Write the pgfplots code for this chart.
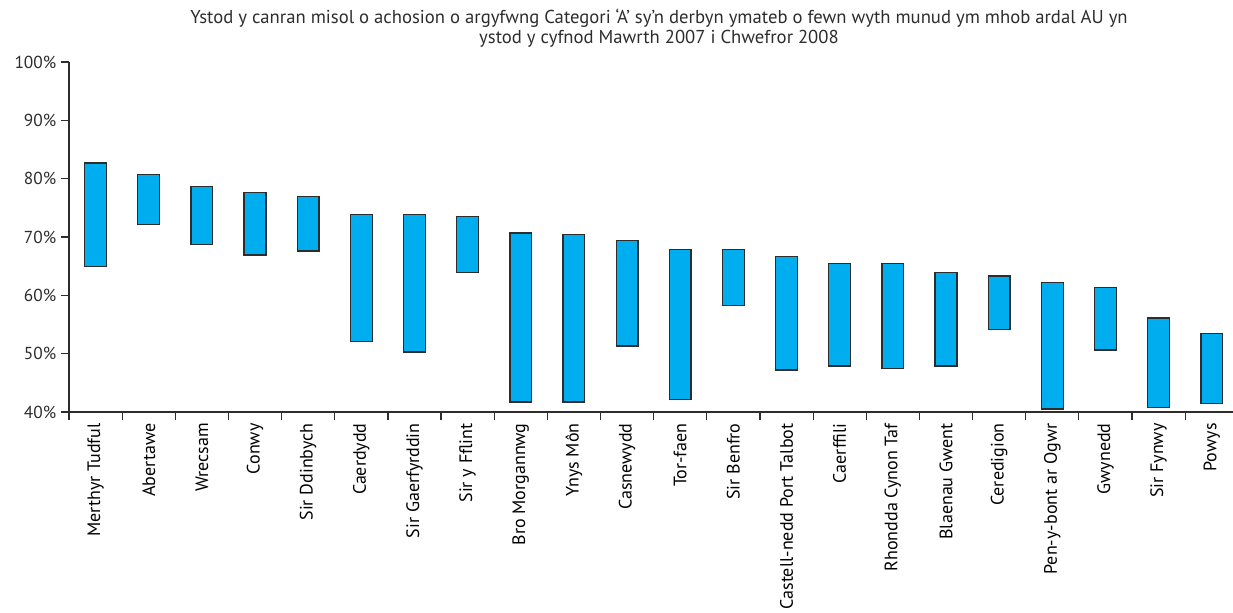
\documentclass[border=0pt]{standalone}
\usepackage{pgfplots}
\pgfplotsset{compat=1.18}
\usepackage{pgfplotstable}
\usepackage{fontspec}
\setmainfont{PT Sans}
\definecolor{barblue}{RGB}{0,174,239}
\definecolor{axgray}{RGB}{45,45,45}
\pgfplotstableread{
idx low high
0 64.9 82.7
1 72.1 80.7
2 68.7 78.7
3 66.9 77.6
4 67.6 76.9
5 52.1 73.9
6 50.3 73.9
7 63.9 73.5
8 41.7 70.7
9 41.7 70.4
10 51.3 69.4
11 42.1 67.8
12 58.2 67.8
13 47.2 66.7
14 47.9 65.4
15 47.5 65.4
16 47.9 63.9
17 54.1 63.3
18 40.5 62.2
19 50.6 61.3
20 40.8 56.1
21 41.4 53.4
}\ranges
\begin{document}
\begin{tikzpicture}
\path[use as bounding box] (-51.75pt,-150.75pt) rectangle (873pt,309pt);
\begin{axis}[
  at={(0,0)}, anchor=south west,
  width=873pt, height=262.5pt, scale only axis,
  xmin=-0.5, xmax=21.4, ymin=40, ymax=100,
  axis x line*=bottom, axis y line*=left,
  axis line style={axgray, line width=1.1pt},
  tick align=outside, major tick length=6pt,
  every tick/.style={axgray, line width=0.9pt},
  ytick={40,50,...,100},
  yticklabels={40\%,50\%,60\%,70\%,80\%,90\%,100\%},
  yticklabel style={font=\fontsize{13}{15}\selectfont, color=axgray},
  xtick={-0.5,0.5,...,20.5},
  xticklabels={\empty},
  extra x ticks={0,1,...,21},
  extra x tick labels={Merthyr Tudful,Abertawe,Wrecsam,Conwy,Sir Ddinbych,Caerdydd,Sir Gaerfyrddin,Sir y Fflint,Bro Morgannwg,Ynys Môn,Casnewydd,Tor-faen,Sir Benfro,Castell-nedd Port Talbot,Caerffili,Rhondda Cynon Taf,Blaenau Gwent,Ceredigion,Pen-y-bont ar Ogwr,Gwynedd,Sir Fynwy,Powys},
  extra x tick style={major tick length=0pt},
  xticklabel style={yshift=-5pt, rotate=90, anchor=east, font=\fontsize{13.5}{15}\selectfont, color=black},
  ybar stacked, bar width=0.41,
]
\addplot[draw=none, fill=none, forget plot] table[x=idx, y=low] {\ranges};
\addplot[fill=barblue, draw=axgray, line width=1pt] table[x=idx, y expr=\thisrow{high}-\thisrow{low}] {\ranges};
\end{axis}
\node[align=center, font=\fontsize{14}{15}\selectfont, color=axgray] at (442.5pt,288pt) {Ystod y canran misol o achosion o argyfwng Categori ‘A’ sy’n derbyn ymateb o fewn wyth munud ym mhob ardal AU yn\\ystod y cyfnod Mawrth 2007 i Chwefror 2008};
\end{tikzpicture}
\end{document}
